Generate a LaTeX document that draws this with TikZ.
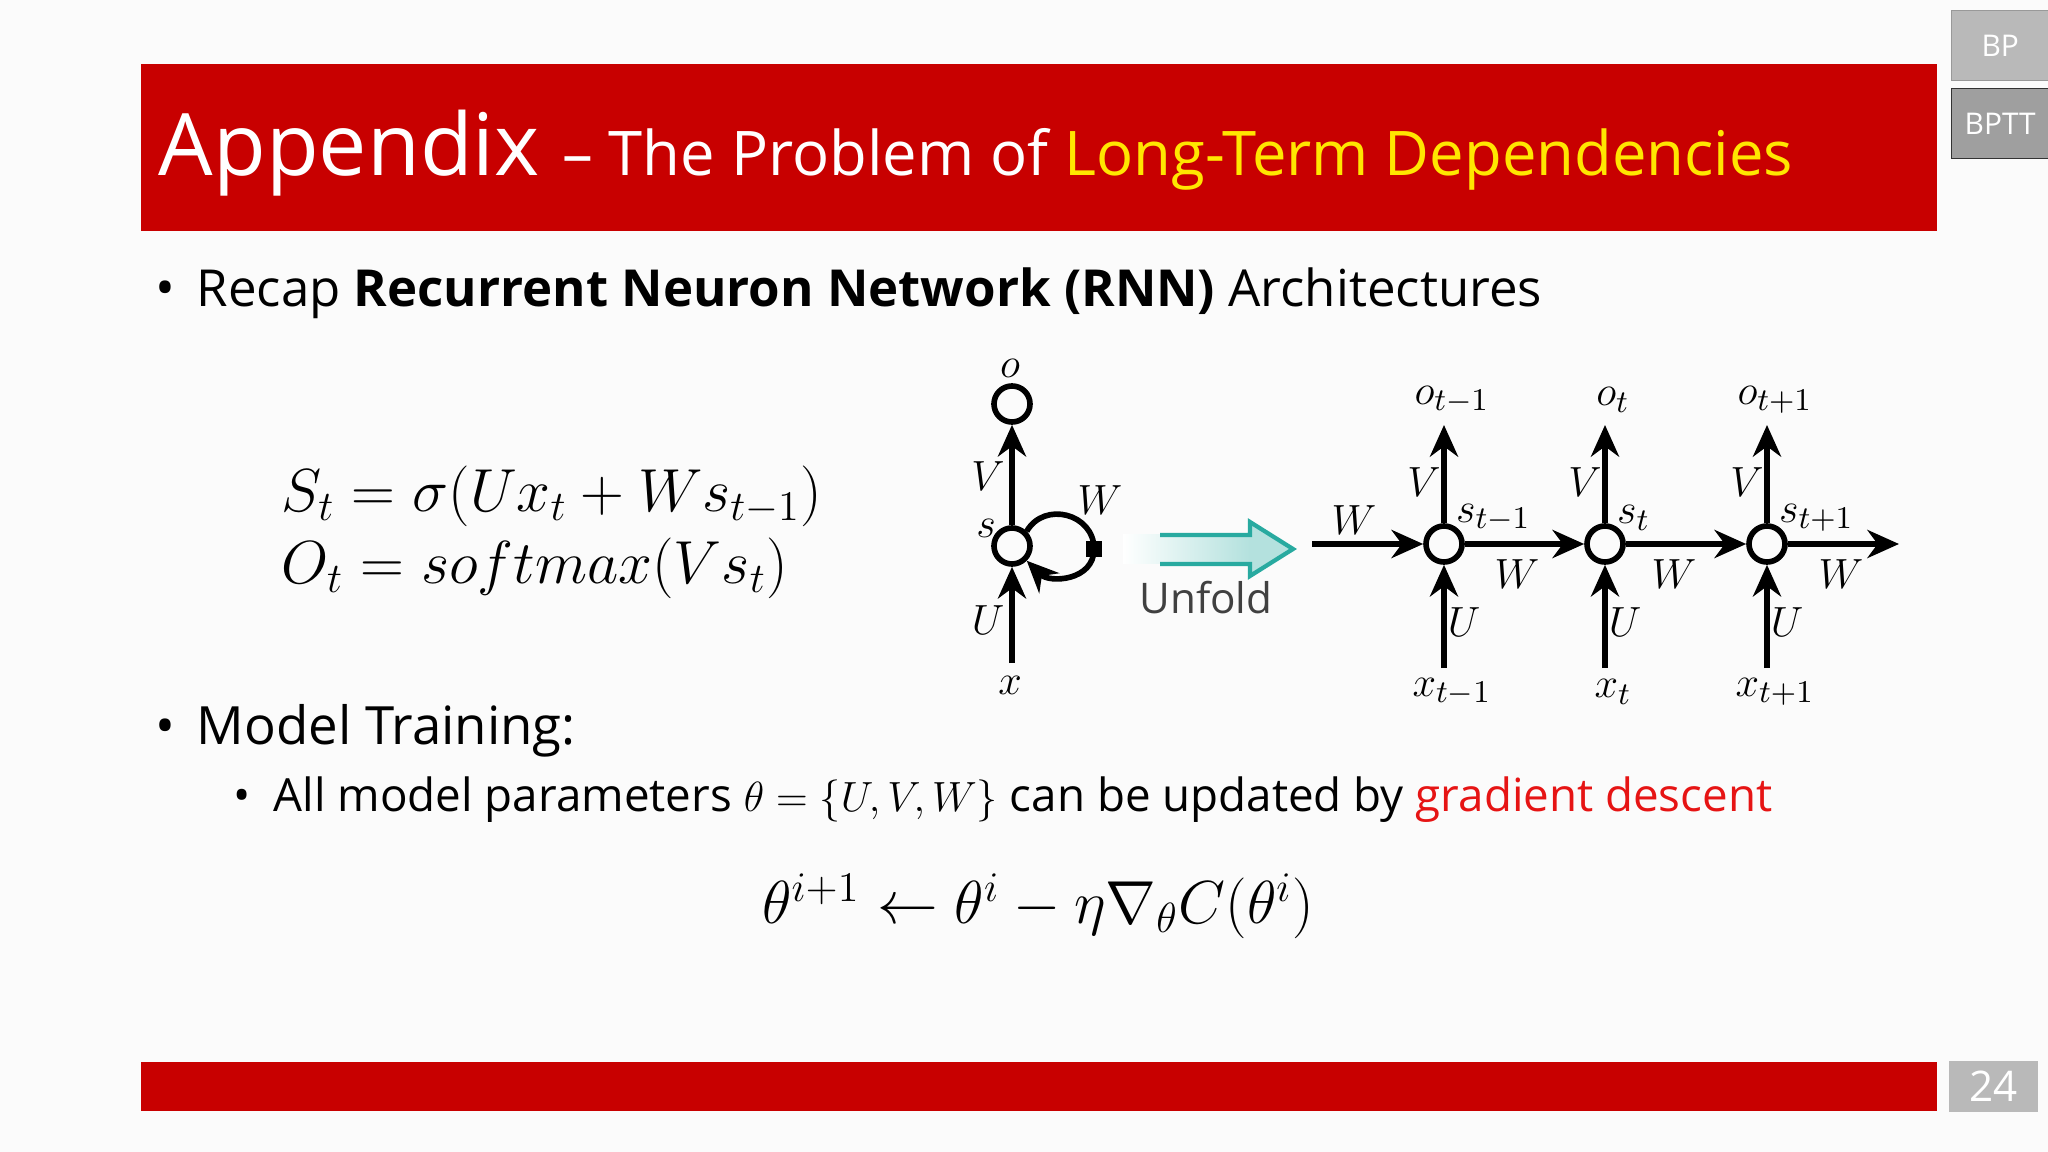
\documentclass[tikz,border=0pt]{standalone}
\usepackage{fontspec}
\setmainfont{Open Sans}
\usetikzlibrary{arrows.meta,shapes.arrows}
\definecolor{hdr}{RGB}{200,0,0}
\definecolor{ttl}{RGB}{255,230,0}
\definecolor{grd}{RGB}{230,20,20}
\definecolor{teal}{RGB}{40,170,160}
\tikzset{
 cell/.style={circle,draw,line width=1.6pt,minimum size=0.36cm,inner sep=0pt},
 conn/.style={line width=1.6pt,-{Stealth[length=9pt,width=8pt]}},
 lab/.style={font=\fontsize{13}{13}\selectfont,inner sep=1pt},
 sidebox/.style={fill=gray!55,draw=gray!80,text=white,font=\fontsize{8.5}{8.5}\selectfont,anchor=north west,minimum width=0.97cm,minimum height=0.7cm,inner sep=0pt}
}
\begin{document}
\begin{tikzpicture}[x=0.01cm,y=-0.01cm]
\useasboundingbox[fill=gray!3] (0,0) rectangle (2048,1152);
% header
\fill[hdr] (141,64) rectangle (1937,231);
\node[anchor=base west,text=white,inner sep=0] (title) at (158,176) {\fontsize{24.5}{24.5}\selectfont Appendix \fontsize{17.5}{17.5}\selectfont -- The Problem of \textcolor{ttl}{Long-Term Dependencies}};
\node[sidebox] (bp) at (1951,10) {BP};
\node[sidebox,fill=gray!75,draw=gray!40!black] (bptt) at (1951,88) {BPTT};
% bullets
\node[anchor=base west,inner sep=0] (b1) at (155,307) {\fontsize{15}{15}\selectfont •\hspace{0.4em}\fontsize{14.5}{14.5}\selectfont Recap \textbf{Recurrent Neuron Network (RNN)} Architectures};
\node[anchor=west,inner sep=0] (eq1) at (281,496) {\fontsize{17}{17}\selectfont $S_t=\sigma(Ux_t+Ws_{t-1})$};
\node[anchor=west,inner sep=0] (eq2) at (281,568) {\fontsize{17}{17}\selectfont $O_t=softmax(Vs_t)$};
\node[anchor=base west,inner sep=0] (b2) at (155,744) {\fontsize{15}{15}\selectfont •\hspace{0.4em}Model Training:};
\node[anchor=base west,inner sep=0] (b3) at (233,811) {\fontsize{13}{13}\selectfont •\hspace{0.5em}All model parameters $\theta=\{U,V,W\}$ can be updated by \textcolor{grd}{gradient descent}};
\node[inner sep=0] (eq3) at (1038,906) {\fontsize{17}{17}\selectfont $\theta^{i+1}\leftarrow\theta^{i}-\eta\nabla_{\theta}C\bigl(\theta^{i}\bigr)$};
% folded RNN
\node[cell] (s) at (1012,546) {};
\node[cell] (o) at (1012,404) {};
\node[lab] (x) at (1010,685) {$x$};
\node[lab] (ol) at (1010,368) {$o$};
\node[lab,anchor=east] at (1000,528) {$s$};
\draw[conn] (1012,663) -- (s);
\draw[conn] (s) -- (o);
\node[lab] at (988,476) {$V$};
\node[lab] at (988,620) {$U$};
\draw[line width=1.6pt,-{Stealth[length=9pt,width=8pt]}] (s.north east) to[out=60,in=90,looseness=1.3] (1094,549) to[out=-90,in=-45,looseness=1.2] (s.south east);
\fill (1086,541) rectangle (1102,557);
\node[lab] at (1100,500) {$W$};
% unfold arrow
\shade[left color=teal!0,right color=teal!35] (1123,535) rectangle (1250,564);
\fill[teal!35] (1250,535) -- (1250,522) -- (1293,549) -- (1250,576) -- (1250,564) -- cycle;
\draw[teal,line width=1.2pt] (1160,535) -- (1250,535) -- (1250,522) -- (1293,549) -- (1250,576) -- (1250,564) -- (1160,564);
\node[font=\fontsize{12}{12}\selectfont,text=black!75] (unf) at (1206,598) {Unfold};
% unrolled
\coordinate (w0) at (1312,544);
\coordinate (wend) at (1899,544);
\foreach \n/\xx/\sub in {a/1444/{t-1},b/1605/{t},c/1767/{t+1}}{
 \node[cell] (s\n) at (\xx,544) {};
 \coordinate (ot\n) at (\xx,425);
 \node[lab] (o\n) at (\xx+8,400) {$o_{\sub}$};
 \node[lab] (x\n) at (\xx+8,692) {$x_{\sub}$};
 \draw[conn] (\xx,668) -- (s\n);
 \draw[conn] (s\n) -- (ot\n);
 \node[lab] at (\xx-20,482) {$V$};
 \node[lab] at (\xx+20,622) {$U$};
 \node[lab,anchor=west] at (\xx+8,518) {$s_{\sub}$};
}
\draw[conn] (w0) -- (sa);
\draw[conn] (sa) -- (sb);
\draw[conn] (sb) -- (sc);
\draw[conn] (sc) -- (wend);
\node[lab] at (1354,520) {$W$};
\node[lab] at (1517,574) {$W$};
\node[lab] at (1674,574) {$W$};
\node[lab] at (1841,574) {$W$};
% footer
\fill[hdr] (141,1062) rectangle (1937,1111);
\node[fill=gray!55,text=white,font=\fontsize{12}{12}\selectfont,minimum width=0.89cm,minimum height=0.51cm,inner sep=0pt,anchor=north west] (pg) at (1948,1060) {24};
\end{tikzpicture}
\end{document}
